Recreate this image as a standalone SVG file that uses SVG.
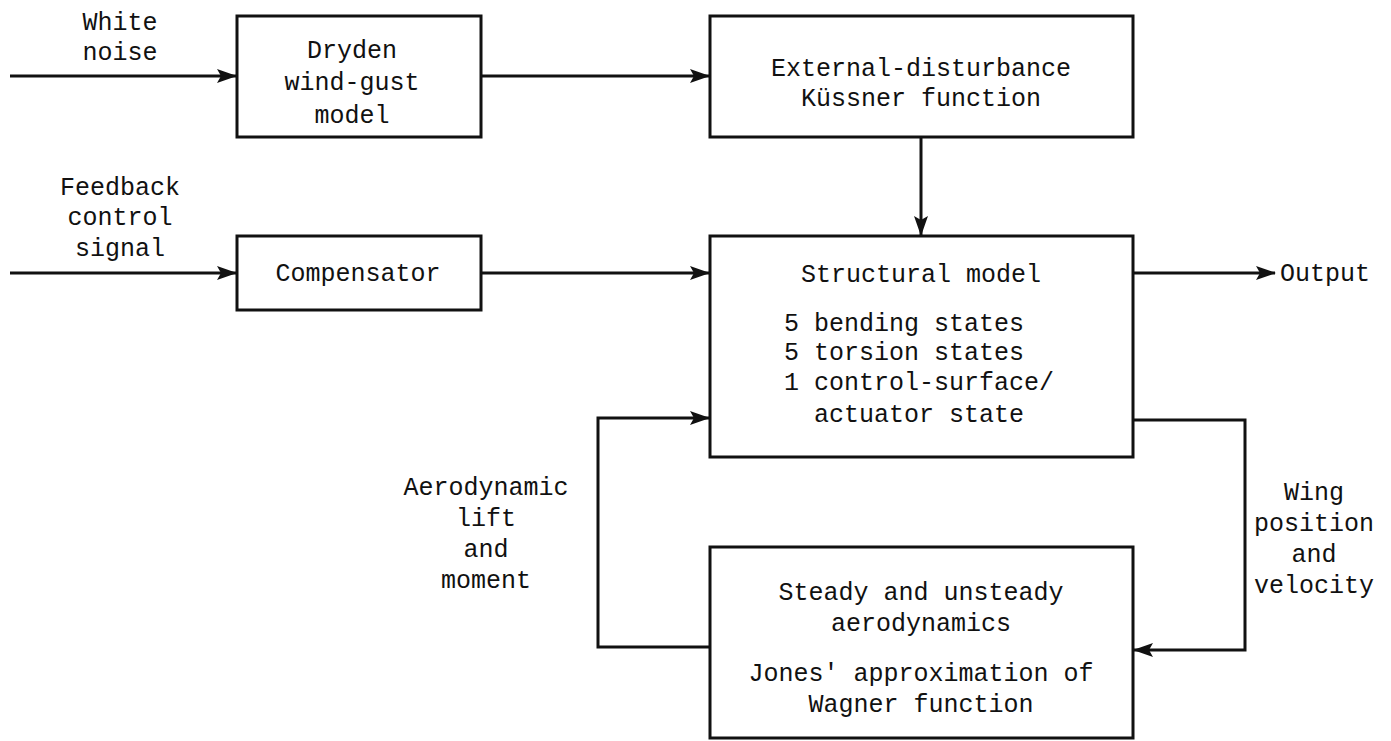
<svg xmlns="http://www.w3.org/2000/svg" width="1391" height="741" viewBox="0 0 1391 741">
<defs>
<style>
text{font-family:"Liberation Mono","DejaVu Sans Mono",monospace;font-size:25px;fill:#111;text-anchor:middle}
.box{fill:#fff;stroke:#111;stroke-width:3}
.wire{fill:none;stroke:#111;stroke-width:3}
</style>
<marker id="ah" markerWidth="20" markerHeight="14" refX="19" refY="7" orient="auto" markerUnits="userSpaceOnUse">
<path d="M0,0 L20,7 L0,14 L4,7 Z" fill="#111"/>
</marker>
</defs>
<rect width="1391" height="741" fill="#fff"/>
<g id="connectors">
<path class="wire" d="M10,76 H236" marker-end="url(#ah)"/>
<path class="wire" d="M481,76 H709" marker-end="url(#ah)"/>
<path class="wire" d="M10,273 H236" marker-end="url(#ah)"/>
<path class="wire" d="M481,273 H709" marker-end="url(#ah)"/>
<path class="wire" d="M921,137 V235" marker-end="url(#ah)"/>
<path class="wire" d="M1133,273 H1275" marker-end="url(#ah)"/>
<path class="wire" d="M1133,420 H1245 V650 H1134" marker-end="url(#ah)"/>
<path class="wire" d="M710,647 H598 V418 H709" marker-end="url(#ah)"/>
</g>
<g id="white-noise">
<text x="120" y="30">White</text>
<text x="120" y="60">noise</text>
</g>
<g id="feedback-signal">
<text x="120" y="195">Feedback</text>
<text x="120" y="225">control</text>
<text x="120" y="256">signal</text>
</g>
<g id="dryden">
<rect class="box" x="237" y="16" width="244" height="121"/>
<text x="352" y="58">Dryden</text>
<text x="352" y="90">wind-gust</text>
<text x="352" y="123">model</text>
</g>
<g id="kussner">
<rect class="box" x="710" y="16" width="423" height="121"/>
<text x="921" y="76">External-disturbance</text>
<text x="921" y="106">Küssner function</text>
</g>
<g id="compensator">
<rect class="box" x="237" y="236" width="244" height="74"/>
<text x="358" y="281">Compensator</text>
</g>
<g id="structural">
<rect class="box" x="710" y="236" width="423" height="221"/>
<text x="921" y="282">Structural model</text>
<text x="784" y="331" style="text-anchor:start">5 bending states</text>
<text x="784" y="360" style="text-anchor:start">5 torsion states</text>
<text x="784" y="390" style="text-anchor:start">1 control-surface/</text>
<text x="814" y="422" style="text-anchor:start">actuator state</text>
</g>
<g id="output">
<text x="1280" y="281" style="text-anchor:start">Output</text>
</g>
<g id="aero">
<rect class="box" x="710" y="547" width="423" height="191"/>
<text x="921" y="600">Steady and unsteady</text>
<text x="921" y="631">aerodynamics</text>
<text x="921" y="681">Jones' approximation of</text>
<text x="921" y="712">Wagner function</text>
</g>
<g id="aero-label">
<text x="486" y="495">Aerodynamic</text>
<text x="486" y="526">lift</text>
<text x="486" y="557">and</text>
<text x="486" y="588">moment</text>
</g>
<g id="wing-label">
<text x="1314" y="500">Wing</text>
<text x="1314" y="531">position</text>
<text x="1314" y="562">and</text>
<text x="1314" y="593">velocity</text>
</g>
</svg>
